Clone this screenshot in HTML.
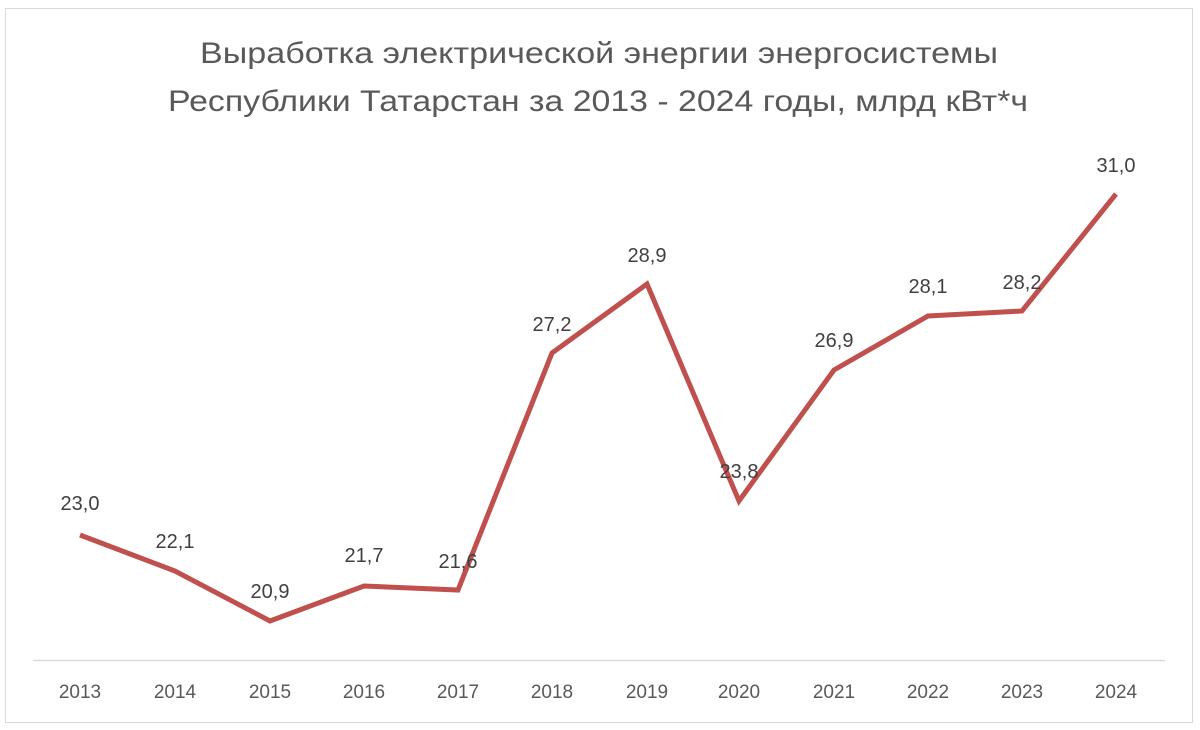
<!DOCTYPE html>
<html><head><meta charset="utf-8"><style>
body{margin:0;background:#fff;}
svg{display:block;font-family:"Liberation Sans",sans-serif;}
</style></head><body>
<svg width="1200" height="730" viewBox="0 0 1200 730">
<rect x="5.5" y="8.5" width="1187" height="714" fill="#fff" stroke="#d9d9d9" stroke-width="1"/>
<text x="200" y="63" font-size="30" fill="#595959" textLength="798" lengthAdjust="spacingAndGlyphs">Выработка электрической энергии энергосистемы</text>
<text x="168" y="111" font-size="30" fill="#595959" textLength="860" lengthAdjust="spacingAndGlyphs">Республики Татарстан за 2013 - 2024 годы, млрд кВт*ч</text>
<line x1="33" y1="660.5" x2="1165" y2="660.5" stroke="#d9d9d9" stroke-width="1.5"/>
<polyline fill="none" stroke="#c0504d" stroke-width="5" stroke-linejoin="miter" points="80,535 175,571 270,621 364,586 458,590 552,353 647,284 739,501 834,370 928,316 1022,311 1116,194"/>
<g font-size="20" fill="#404040" text-anchor="middle">
<text x="80" y="510">23,0</text>
<text x="175" y="548">22,1</text>
<text x="270" y="598">20,9</text>
<text x="364" y="562">21,7</text>
<text x="458" y="568">21,6</text>
<text x="552" y="331">27,2</text>
<text x="647" y="262">28,9</text>
<text x="739" y="478">23,8</text>
<text x="834" y="347">26,9</text>
<text x="928" y="293">28,1</text>
<text x="1022" y="289">28,2</text>
<text x="1116" y="172">31,0</text>
</g>
<g font-size="19" fill="#595959" text-anchor="middle">
<text x="80" y="698">2013</text><text x="175" y="698">2014</text><text x="270" y="698">2015</text><text x="364" y="698">2016</text><text x="458" y="698">2017</text><text x="552" y="698">2018</text><text x="647" y="698">2019</text><text x="739" y="698">2020</text><text x="834" y="698">2021</text><text x="928" y="698">2022</text><text x="1022" y="698">2023</text><text x="1116" y="698">2024</text>
</g>
</svg>
</body></html>
